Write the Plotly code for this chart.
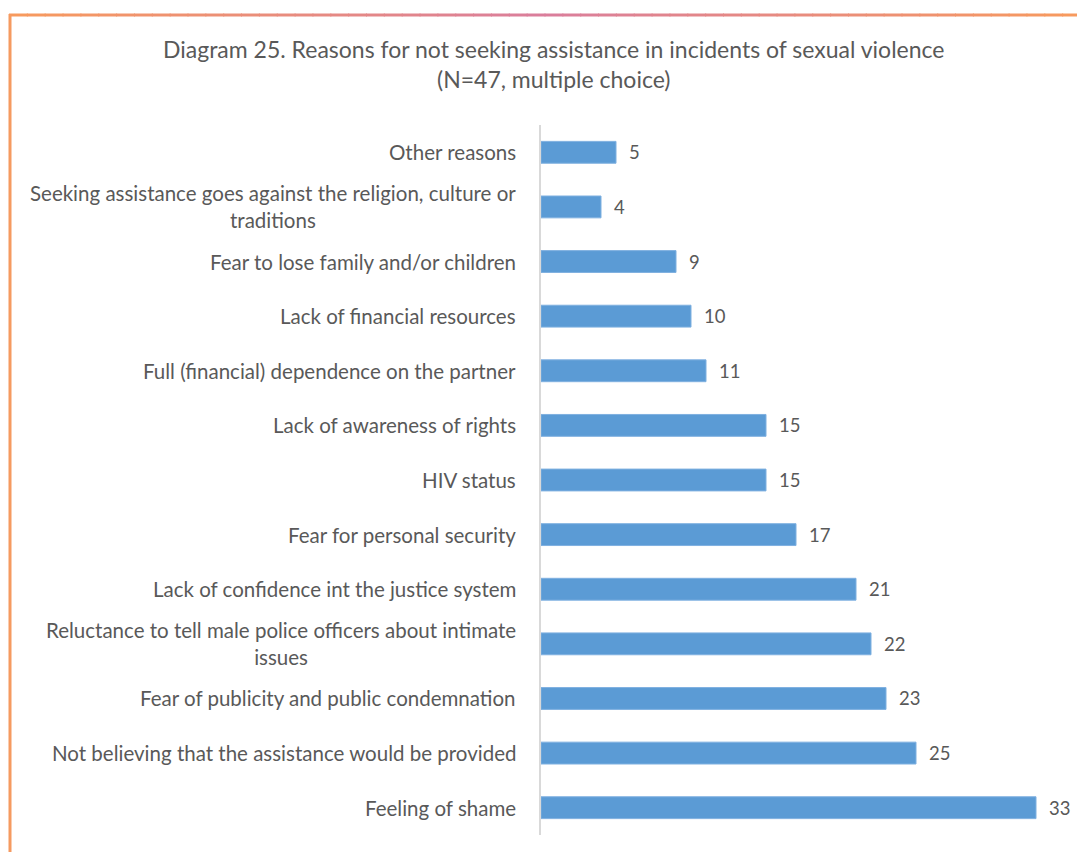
import plotly.graph_objects as go

categories = [
    "Feeling of shame",
    "Not believing that the assistance would be provided",
    "Fear of publicity and public condemnation",
    "Reluctance to tell male police officers about intimate<br>issues",
    "Lack of confidence int the justice system",
    "Fear for personal security",
    "HIV status",
    "Lack of awareness of rights",
    "Full (financial) dependence on the partner",
    "Lack of financial resources",
    "Fear to lose family and/or children",
    "Seeking assistance goes against the religion, culture or<br>traditions",
    "Other reasons",
]
values = [33, 25, 23, 22, 21, 17, 15, 15, 11, 10, 9, 4, 5]

title_text = "Diagram 25. Reasons for not seeking assistance in incidents of sexual violence<br>(N=47, multiple choice)"

OFF = 0  # body margin removed by post_script
W, H = 1077, 852
L = 541
T = 125
B = H - 835
R = 7
FONT = "Lato"
GREY = "#595959"

ypos = list(range(len(categories)))

fig = go.Figure()
fig.add_trace(go.Bar(
    x=values, y=ypos, orientation="h",
    marker=dict(color="#5B9BD5", line=dict(color="#7FB0E0", width=1)),
    width=0.4, hoverinfo="x+y",
))

pw, ph = W - L - R, H - T - B
def px(xt):
    return (xt - OFF - L) / pw
def py(yt):
    return (H - B - (yt - OFF)) / ph

annotations = []
for yi, cat, v in zip(ypos, categories, values):
    annotations.append(dict(
        x=0, y=yi, xref="paper", yref="y", text=cat, showarrow=False,
        xanchor="right", yanchor="middle", align="center", xshift=-23,
        font=dict(family=FONT, size=20.5, color=GREY),
    ))
    annotations.append(dict(
        x=v, y=yi, xref="x", yref="y", text=str(v), showarrow=False,
        xanchor="left", yanchor="middle", xshift=11,
        font=dict(family=FONT, size=18.5, color=GREY),
    ))
annotations.append(dict(
    x=px(553), y=py(64), xref="paper", yref="paper",
    text=title_text, showarrow=False, xanchor="center", yanchor="middle", align="center",
    font=dict(family=FONT, size=23, color=GREY),
))

shapes = []
# left orange edge
shapes.append(dict(type="line", xref="paper", yref="paper", x0=px(10), x1=px(10),
                   y0=py(14), y1=py(860), line=dict(color="#F59A60", width=3)))
# top gradient edge
n = 60
c1 = (0xF7, 0x9A, 0x5E)
c2 = (0xD9, 0x7E, 0x9C)
x_start, x_end = 9, 1080
for i in range(n):
    t = i / (n - 1)
    f = 1 - abs(2 * t - 1)
    col = tuple(int(round(c1[k] + (c2[k] - c1[k]) * f)) for k in range(3))
    xa = x_start + (x_end - x_start) * i / n
    xb = x_start + (x_end - x_start) * (i + 1) / n + 1
    shapes.append(dict(type="line", xref="paper", yref="paper", x0=px(xa), x1=px(xb),
                       y0=py(15), y1=py(15),
                       line=dict(color="rgb(%d,%d,%d)" % col, width=3)))

fig.update_layout(
    width=W, height=H,
    margin=dict(l=L, r=R, t=T, b=B),
    paper_bgcolor="white", plot_bgcolor="white",
    showlegend=False,
    xaxis=dict(range=[0, pw / 15.0], visible=False, fixedrange=True),
    yaxis=dict(range=[-0.5, len(categories) - 0.5], showticklabels=False,
               showgrid=False, zeroline=False, showline=True, linecolor="#D9D9D9",
               linewidth=1.5, ticks="", fixedrange=True),
    annotations=annotations,
    shapes=shapes,
)

fig.write_html(
    "out.html",
    config={"displayModeBar": False},
    post_script="document.body.style.margin='0px';document.documentElement.style.overflow='hidden';",
)
